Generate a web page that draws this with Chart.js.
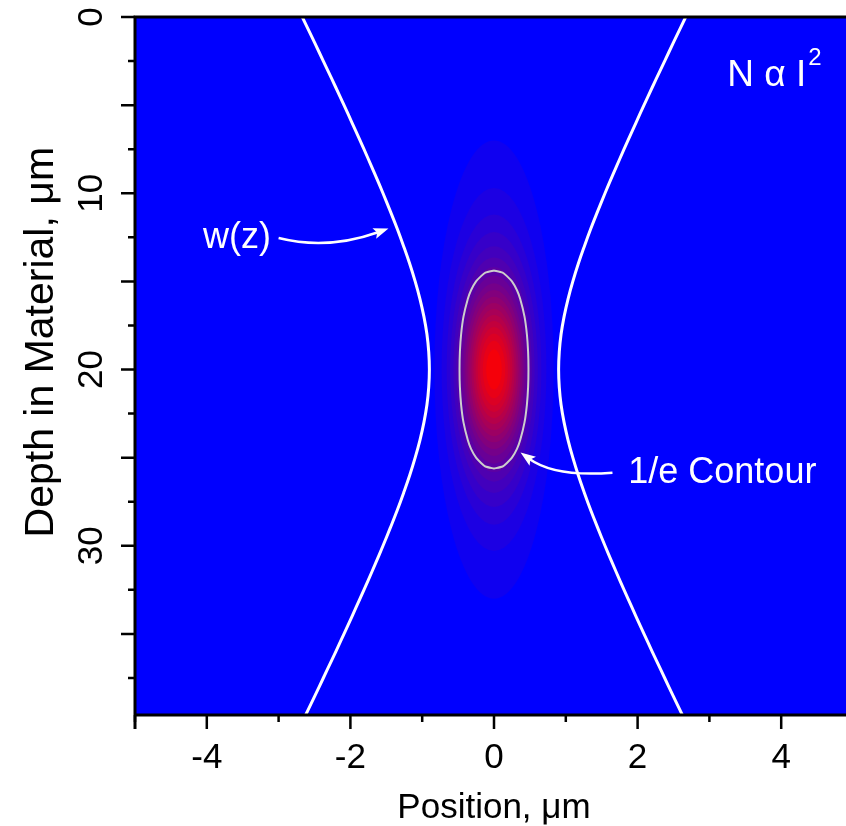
<!DOCTYPE html>
<html lang="en">
<head>
<meta charset="UTF-8">
<title>N α I²</title>
<script src="https://cdn.jsdelivr.net/npm/chart.js"></script>
<style>
  html, body { margin: 0; padding: 0; overflow: hidden; background: #fff; }
  canvas { display: block; }
</style>
</head>
<body>
<canvas id="beamChart" width="853" height="826"></canvas>
<script>
// depth in material (um) and beam radius w(z) (um)
const depth = [0, 1, 2, 3, 4, 5, 6, 7, 8, 9, 10, 11, 12, 13, 14, 15, 16, 17, 18, 19,
  20, 21, 22, 23, 24, 25, 26, 27, 28, 29, 30, 31, 32, 33, 34, 35, 36, 37, 38, 39, 39.6];
const beamRadius = [2.670, 2.552, 2.435, 2.319, 2.203, 2.089, 1.977, 1.866, 1.757, 1.650, 1.546, 1.446, 1.349, 1.259, 1.174, 1.098, 1.031, 0.976, 0.934, 0.909,
  0.900, 0.909, 0.934, 0.976, 1.031, 1.098, 1.174, 1.259, 1.349, 1.446, 1.546, 1.650, 1.757, 1.866, 1.977, 2.089, 2.203, 2.319, 2.435, 2.552, 2.623];

// 1/e contour of N: half-width (um) at each depth
const contourDepth = [14.38, 14.5, 14.7, 15, 15.5, 16, 17, 18, 19, 20, 21, 22, 23, 24, 24.5, 25, 25.3, 25.5, 25.62];
const contourHalfWidth = [0, 0.12, 0.18, 0.25, 0.32, 0.365, 0.425, 0.458, 0.475, 0.48, 0.475, 0.458, 0.425, 0.365, 0.32, 0.25, 0.18, 0.12, 0];

// colour bands of normalised N around the focus
const bandLevel = [0.05, 0.10, 0.15, 0.20, 0.25, 0.30, 0.35, 0.40, 0.45, 0.50, 0.55, 0.60, 0.65, 0.70, 0.75, 0.80, 0.85, 0.90, 0.95];
const bandHalfWidth = [0.83, 0.73, 0.66, 0.61, 0.565, 0.527, 0.492, 0.459, 0.429, 0.400, 0.371, 0.343, 0.315, 0.287, 0.257, 0.227, 0.193, 0.156, 0.109];
const bandHalfDepth = [13.0, 10.3, 8.8, 7.8, 7.0, 6.36, 5.82, 5.34, 4.90, 4.51, 4.13, 3.78, 3.43, 3.09, 2.75, 2.41, 2.04, 1.63, 1.13];
const focus = { x: 0, depth: 20 };

// tick labels
const xTicks = [-4, -2, 0, 2, 4];
const yTicks = [0, 10, 20, 30];

const FONT = "'Liberation Sans', Arial, sans-serif";

function bandColor(f) {
  f = Math.min(1, f);
  return 'rgb(' + Math.round(255 * f) + ',0,' + Math.round(255 * (1 - f)) + ')';
}

function arrow(ctx, x, y, p0, c, p1) {
  const a = [x.getPixelForValue(p0[0]), y.getPixelForValue(p0[1])];
  const m = [x.getPixelForValue(c[0]), y.getPixelForValue(c[1])];
  const b = [x.getPixelForValue(p1[0]), y.getPixelForValue(p1[1])];
  const ang = Math.atan2(b[1] - m[1], b[0] - m[0]);
  const len = 15, hw = 5.5;
  const bx = b[0] - len * Math.cos(ang), by = b[1] - len * Math.sin(ang);
  ctx.beginPath();
  ctx.moveTo(a[0], a[1]);
  ctx.quadraticCurveTo(m[0], m[1], bx + 4 * Math.cos(ang), by + 4 * Math.sin(ang));
  ctx.stroke();
  ctx.beginPath();
  ctx.moveTo(b[0], b[1]);
  ctx.lineTo(bx - hw * Math.sin(ang), by + hw * Math.cos(ang));
  ctx.lineTo(bx + 3 * Math.cos(ang), by + 3 * Math.sin(ang));
  ctx.lineTo(bx + hw * Math.sin(ang), by - hw * Math.cos(ang));
  ctx.closePath();
  ctx.fill();
}

const beamPlot = {
  id: 'beamPlot',
  beforeDatasetsDraw(chart) {
    const { ctx, chartArea: a, scales: { x, y } } = chart;
    ctx.save();
    ctx.beginPath();
    ctx.rect(a.left, a.top, a.width, a.height);
    ctx.clip();
    ctx.fillStyle = 'rgb(0,0,255)';
    ctx.fillRect(a.left, a.top, a.width, a.height);
    const cx = x.getPixelForValue(focus.x), cy = y.getPixelForValue(focus.depth);
    bandLevel.forEach((lv, i) => {
      const rx = x.getPixelForValue(focus.x + bandHalfWidth[i]) - cx;
      const ry = Math.abs(y.getPixelForValue(focus.depth + bandHalfDepth[i]) - cy);
      ctx.fillStyle = bandColor(lv + 0.01);
      ctx.beginPath();
      ctx.ellipse(cx, cy, rx, ry, 0, 0, Math.PI * 2);
      ctx.fill();
    });
    ctx.restore();
  },
  afterDatasetsDraw(chart) {
    const { ctx, chartArea: a, scales: { x, y } } = chart;
    ctx.save();
    ctx.beginPath();
    ctx.rect(a.left, a.top, a.width, a.height);
    ctx.clip();
    ctx.fillStyle = '#fff';
    ctx.strokeStyle = '#fff';
    ctx.lineWidth = 2.5;
    ctx.textBaseline = 'middle';
    ctx.font = '36px ' + FONT;
    ctx.textAlign = 'center';
    ctx.fillText('w(z)', x.getPixelForValue(-3.58), y.getPixelForValue(12.54));
    arrow(ctx, x, y, [-3.0, 12.54], [-2.32, 13.23], [-1.47, 12.0]);
    ctx.textAlign = 'left';
    ctx.fillText('1/e Contour', x.getPixelForValue(1.87), y.getPixelForValue(25.87));
    arrow(ctx, x, y, [1.65, 25.85], [0.85, 26.11], [0.37, 24.71]);
    // N alpha I^2
    ctx.textBaseline = 'alphabetic';
    ctx.font = '37px ' + FONT;
    const nx = x.getPixelForValue(3.25), ny = y.getPixelForValue(3.92);
    ctx.fillText('N α I', nx, ny);
    const w = ctx.measureText('N α I').width;
    ctx.font = '24px ' + FONT;
    ctx.fillText('2', nx + w + 2, y.getPixelForValue(2.72));
    ctx.restore();
  },
  afterDraw(chart) {
    const { ctx, chartArea: a, scales: { x, y } } = chart;
    ctx.save();
    // y axis title, sits a little above the middle of the axis
    ctx.fillStyle = '#000';
    ctx.font = '41px ' + FONT;
    ctx.textAlign = 'center';
    ctx.textBaseline = 'middle';
    ctx.translate(42, y.getPixelForValue(18.45));
    ctx.rotate(-Math.PI / 2);
    ctx.fillText('Depth in Material, μm', 0, 0);
    ctx.setTransform(1, 0, 0, 1, 0, 0);

    ctx.strokeStyle = '#000';
    ctx.lineWidth = 3;
    ctx.beginPath();
    ctx.moveTo(a.left, a.bottom + 14);
    ctx.lineTo(a.left, a.top);
    ctx.lineTo(a.right, a.top);
    ctx.moveTo(a.left - 1.5, a.bottom);
    ctx.lineTo(a.right, a.bottom);
    ctx.stroke();
    ctx.lineWidth = 2.5;
    ctx.beginPath();
    for (let v = -5; v <= 5; v++) {
      const px = x.getPixelForValue(v);
      ctx.moveTo(px, a.bottom);
      ctx.lineTo(px, a.bottom + (v % 2 === 0 ? 14 : 7));
    }
    for (let v = 0; v <= 37.5; v += 2.5) {
      const py = y.getPixelForValue(v);
      ctx.moveTo(a.left, py);
      ctx.lineTo(a.left - (v % 5 === 0 ? 14 : 7), py);
    }
    ctx.stroke();
    ctx.restore();
  }
};

const line = { showLine: true, pointRadius: 0, fill: false, tension: 0.4 };

function noPad(s) {
  s.paddingLeft = 0; s.paddingRight = 0; s.paddingTop = 0; s.paddingBottom = 0;
}

new Chart(document.getElementById('beamChart'), {
  type: 'scatter',
  data: {
    datasets: [
      Object.assign({
        data: depth.map((d, i) => ({ x: -beamRadius[i], y: d })),
        borderColor: '#fff', borderWidth: 3
      }, line),
      Object.assign({
        data: depth.map((d, i) => ({ x: beamRadius[i], y: d })),
        borderColor: '#fff', borderWidth: 3
      }, line),
      Object.assign({
        data: contourDepth.map((d, i) => ({ x: contourHalfWidth[i], y: d }))
          .concat(contourDepth.slice().reverse().map((d, i) => ({ x: -contourHalfWidth[contourDepth.length - 1 - i], y: d }))),
        borderColor: 'rgb(205,205,205)', borderWidth: 2
      }, line, { tension: 0.2 })
    ]
  },
  options: {
    responsive: false,
    animation: false,
    events: [],
    layout: { padding: { top: 17, left: 0, right: 0, bottom: 0 } },
    plugins: { legend: { display: false }, tooltip: { enabled: false } },
    scales: {
      x: {
        type: 'linear', min: -5, max: 5,
        grid: { display: false, drawTicks: false },
        border: { display: false },
        ticks: {
          stepSize: 1, autoSkip: false, maxRotation: 0, padding: 22, color: '#000',
          font: { family: FONT, size: 35 },
          callback: v => xTicks.includes(v) ? String(v) : ''
        },
        title: {
          display: true, text: 'Position, μm', color: '#000',
          font: { family: FONT, size: 35, lineHeight: 1 }, padding: { top: 0, bottom: 0 }
        },
        afterFit: s => { s.height = 111; noPad(s); }
      },
      y: {
        type: 'linear', min: 0, max: 39.6, reverse: true,
        grid: { display: false, drawTicks: false },
        border: { display: false },
        ticks: {
          stepSize: 10, autoSkip: false, minRotation: 90, maxRotation: 90, crossAlign: 'center',
          padding: 23, color: '#000',
          font: { family: FONT, size: 35 },
          callback: v => yTicks.includes(v) ? String(v) : ''
        },
        afterFit: s => { s.width = 135; noPad(s); }
      }
    }
  },
  plugins: [beamPlot]
});
</script>
</body>
</html>
